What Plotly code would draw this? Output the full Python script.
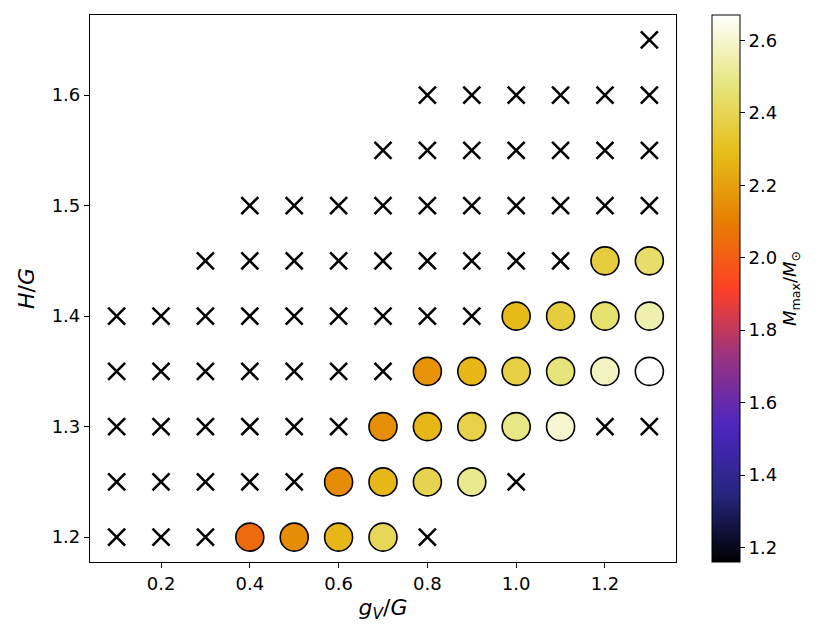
import plotly.graph_objects as go

# points where no stable solution was found (drawn as crosses)
fail_gv = [1.3,
           0.8, 0.9, 1.0, 1.1, 1.2, 1.3,
           0.7, 0.8, 0.9, 1.0, 1.1, 1.2, 1.3,
           0.4, 0.5, 0.6, 0.7, 0.8, 0.9, 1.0, 1.1, 1.2, 1.3,
           0.3, 0.4, 0.5, 0.6, 0.7, 0.8, 0.9, 1.0, 1.1,
           0.1, 0.2, 0.3, 0.4, 0.5, 0.6, 0.7, 0.8, 0.9,
           0.1, 0.2, 0.3, 0.4, 0.5, 0.6, 0.7,
           0.1, 0.2, 0.3, 0.4, 0.5, 0.6, 1.2, 1.3,
           0.1, 0.2, 0.3, 0.4, 0.5, 1.0,
           0.1, 0.2, 0.3, 0.8]
fail_h = [1.65,
          1.6, 1.6, 1.6, 1.6, 1.6, 1.6,
          1.55, 1.55, 1.55, 1.55, 1.55, 1.55, 1.55,
          1.5, 1.5, 1.5, 1.5, 1.5, 1.5, 1.5, 1.5, 1.5, 1.5,
          1.45, 1.45, 1.45, 1.45, 1.45, 1.45, 1.45, 1.45, 1.45,
          1.4, 1.4, 1.4, 1.4, 1.4, 1.4, 1.4, 1.4, 1.4,
          1.35, 1.35, 1.35, 1.35, 1.35, 1.35, 1.35,
          1.3, 1.3, 1.3, 1.3, 1.3, 1.3, 1.3, 1.3,
          1.25, 1.25, 1.25, 1.25, 1.25, 1.25,
          1.2, 1.2, 1.2, 1.2]

# points with a maximum mass
ok_gv = [1.2, 1.3,
         1.0, 1.1, 1.2, 1.3,
         0.8, 0.9, 1.0, 1.1, 1.2, 1.3,
         0.7, 0.8, 0.9, 1.0, 1.1,
         0.6, 0.7, 0.8, 0.9,
         0.4, 0.5, 0.6, 0.7]
ok_h = [1.45, 1.45,
        1.4, 1.4, 1.4, 1.4,
        1.35, 1.35, 1.35, 1.35, 1.35, 1.35,
        1.3, 1.3, 1.3, 1.3, 1.3,
        1.25, 1.25, 1.25, 1.25,
        1.2, 1.2, 1.2, 1.2]
ok_mmax = [2.36, 2.44,
           2.28, 2.36, 2.45, 2.55,
           2.16, 2.27, 2.37, 2.47, 2.58, 2.67,
           2.15, 2.27, 2.38, 2.49, 2.60,
           2.14, 2.27, 2.39, 2.50,
           2.04, 2.14, 2.27, 2.41]

# matplotlib CMRmap
cmrmap = [
    [0.0, "rgb(0,0,0)"],
    [0.125, "rgb(38,38,128)"],
    [0.25, "rgb(77,38,191)"],
    [0.375, "rgb(153,51,128)"],
    [0.5, "rgb(255,64,38)"],
    [0.625, "rgb(230,128,0)"],
    [0.75, "rgb(230,191,26)"],
    [0.875, "rgb(230,230,128)"],
    [1.0, "rgb(255,255,255)"],
]

fig = go.Figure()

fig.add_trace(go.Scatter(
    x=fail_gv, y=fail_h, mode="markers",
    marker=dict(symbol="x-thin", size=17, color="black",
                line=dict(color="black", width=2.6)),
    showlegend=False, hoverinfo="x+y",
))

fig.add_trace(go.Scatter(
    x=ok_gv, y=ok_h, mode="markers",
    marker=dict(
        size=28, color=ok_mmax, colorscale=cmrmap, cmin=1.16, cmax=2.67,
        line=dict(color="black", width=1.6),
        colorbar=dict(
            x=1.0614, xanchor="left", xpad=0, y=0.5, yanchor="middle",
            len=1.0, ypad=0, thickness=28, outlinewidth=1, outlinecolor="black",
            tickvals=[1.2, 1.4, 1.6, 1.8, 2.0, 2.2, 2.4, 2.6],
            ticktext=["1.2", "1.4", "1.6", "1.8", "2.0", "2.2", "2.4", "2.6"],
            ticks="outside", ticklen=5, tickcolor="black",
            tickfont=dict(size=18, color="black"),
            title=dict(text="<i>M</i><sub>max</sub>/<i>M</i><sub>⊙</sub>",
                       side="right", font=dict(size=18, color="black")),
        ),
    ),
    showlegend=False,
))

# the page adds an 8 px body margin, so the figure is a bit smaller than the window
fig.update_layout(
    width=822, height=632,
    margin=dict(l=82, r=154, t=7, b=78),
    plot_bgcolor="white", paper_bgcolor="white",
    font=dict(family="DejaVu Sans", size=18, color="black"),
)

fig.update_xaxes(
    range=[0.04, 1.36], tickvals=[0.2, 0.4, 0.6, 0.8, 1.0, 1.2],
    ticktext=["0.2", "0.4", "0.6", "0.8", "1.0", "1.2"],
    showgrid=False, zeroline=False, showline=True, mirror=True,
    linecolor="black", linewidth=1.2, ticks="outside", ticklen=5,
    tickcolor="black", title=dict(text="<i>g</i><sub><i>V</i></sub>/<i>G</i>", standoff=6),
)
fig.update_yaxes(
    range=[1.1775, 1.6725], tickvals=[1.2, 1.3, 1.4, 1.5, 1.6],
    ticktext=["1.2", "1.3", "1.4", "1.5", "1.6"],
    showgrid=False, zeroline=False, showline=True, mirror=True,
    linecolor="black", linewidth=1.2, ticks="outside", ticklen=5,
    tickcolor="black", title=dict(text="<i>H</i>/<i>G</i>", standoff=10),
)

fig.write_html("out.html")
